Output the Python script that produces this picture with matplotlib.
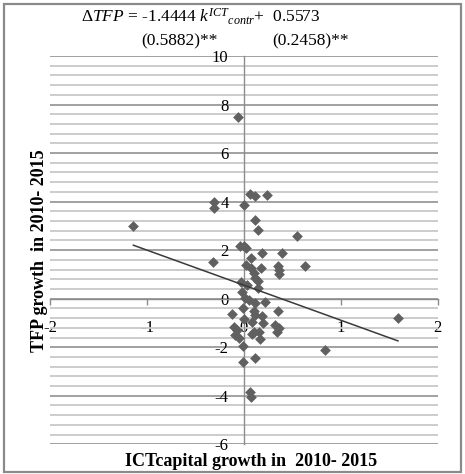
import matplotlib
matplotlib.use("Agg")
import matplotlib.pyplot as plt
from matplotlib.patches import Rectangle
import numpy as np

plt.rcParams['font.family'] = ['Liberation Serif', 'DejaVu Serif']
plt.rcParams['axes.unicode_minus'] = False
plt.rcParams['mathtext.fontset'] = 'custom'
plt.rcParams['mathtext.rm'] = 'Liberation Serif'
plt.rcParams['mathtext.it'] = 'Liberation Serif:italic'

# ICT capital growth (x) vs TFP growth (y), 2010-2015
ict_growth = [
    -1.14, -0.06, 0.06, 0.12, 0.24, -0.31, -0.31, 0.00, 0.12, 0.15,
    0.55, -0.04, 0.00, 0.02, 0.19, 0.39, -0.32, 0.07, 0.63, 0.35,
    0.36, 0.36, 0.02, 0.07, 0.18, 0.10, 0.12, 0.15, -0.03, 0.03,
    0.15, -0.02, 0.015, 0.05, 0.12, 0.22, -0.01, 0.35, -0.12, 0.10,
    0.11, 0.19, 0.00, 0.08, 0.20, 0.32, 0.36, -0.10, -0.07, 0.10,
    0.16, 0.34, -0.09, -0.05, 0.08, 0.17, -0.01, 0.84, 0.12, -0.01,
    0.06, 0.07, 1.59,
]
tfp_growth = [
    3.00, 7.49, 4.31, 4.22, 4.28, 3.99, 3.72, 3.85, 3.26, 2.85,
    2.58, 2.18, 2.16, 2.10, 1.90, 1.88, 1.50, 1.69, 1.34, 1.35,
    1.18, 1.02, 1.38, 1.25, 1.25, 1.04, 0.86, 0.72, 0.70, 0.56,
    0.45, 0.26, 0.01, -0.06, -0.19, -0.13, -0.40, -0.51, -0.65, -0.51,
    -0.68, -0.72, -0.83, -0.98, -1.02, -1.09, -1.20, -1.16, -1.29, -1.39,
    -1.36, -1.36, -1.50, -1.61, -1.47, -1.68, -1.93, -2.12, -2.43, -2.60,
    -3.83, -4.04, -0.81,
]

# trendline coefficients
slope = -1.4444
intercept = 0.5573

x_ticks = [-2, -1, 0, 1, 2]
y_ticks = [-6, -4, -2, 0, 2, 4, 6, 8, 10]

fig = plt.figure(figsize=(4.65, 4.74), dpi=100)
ax = fig.add_axes([50/465, 1-444.3/474, (437.7-50)/465, (444.3-56)/474])

ax.set_xlim(-2, 2)
ax.set_ylim(-6, 10)

# gridlines (major every 2, minor every 0.4)
ax.set_yticks(y_ticks)
ax.set_yticks(np.arange(-6, 10.01, 0.4), minor=True)
ax.set_xticks(x_ticks)
ax.yaxis.grid(True, which='minor', color='#c8c8c8', linewidth=1.3)
ax.yaxis.grid(True, which='major', color='#9a9a9a', linewidth=1.3)
ax.set_axisbelow(True)

# axes cross at zero
ax.spines['left'].set_position(('data', 0))
ax.spines['bottom'].set_position(('data', 0))
ax.spines['top'].set_visible(False)
ax.spines['right'].set_visible(False)
for s in ['left', 'bottom']:
    ax.spines[s].set_color('#8c8c8c')
    ax.spines[s].set_linewidth(1.0)

ax.tick_params(axis='x', which='major', direction='out', length=4, width=1,
               color='#8c8c8c', pad=11, labelsize=12)
ax.tick_params(axis='y', which='major', length=0, pad=11, labelsize=12)
ax.tick_params(axis='y', which='minor', length=0)
ax.set_xticklabels([str(t) for t in x_ticks])
ax.set_yticklabels([str(t) for t in y_ticks])

ax.scatter(ict_growth, tfp_growth, marker='D', s=30, color='#606060', zorder=3, linewidths=0)

# linear trendline over the data range
xs = np.array([min(ict_growth), max(ict_growth)])
ax.plot(xs, slope*xs + intercept, color='#3a3a3a', linewidth=1.1, zorder=4)

fig.text(40/465, 1-251/474, "TFP growth  in 2010- 2015", rotation=90,
         ha='center', va='center', fontsize=13, fontweight='bold')
fig.text(251.5/465, 1-461/474, "ICTcapital growth in  2010- 2015",
         ha='center', va='center', fontsize=13, fontweight='bold')

fig.text(201/465, 1-17/474,
         r"$\mathit{\Delta TFP}$ = -1.4444 $\mathit{k}^{\mathit{ICT}}{}_{\mathit{contr}}$+  0.5573",
         ha='center', va='center', fontsize=12.5)
fig.text(179/465, 1-41/474, "(0.5882)**", ha='center', va='center', fontsize=12.5)
fig.text(311/465, 1-41/474, "(0.2458)**", ha='center', va='center', fontsize=12.5)

# chart area border
fig.patches.append(Rectangle((4/465, 1-471.5/474), 457/465, 468/474, transform=fig.transFigure,
                             fill=False, edgecolor='#8a8a8a', linewidth=1.6))

fig.savefig("out.png", dpi=100)
